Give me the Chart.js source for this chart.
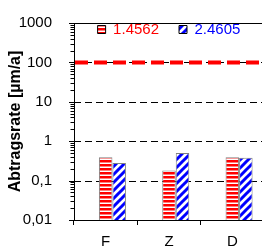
<!DOCTYPE html>
<html lang="de">
<head>
<meta charset="UTF-8">
<title>Abtragsrate</title>
<script src="https://cdn.jsdelivr.net/npm/chart.js"></script>
<style>
  body { margin: 0; overflow: hidden; background: #fff; }
  #wrap { width: 280px; height: 250px; }
</style>
</head>
<body>
<div id="wrap"><canvas id="rateChart" width="280" height="250"></canvas></div>
<script>
const categories = ['F', 'Z', 'D'];
const seriesNames = ['1.4562', '2.4605'];
const rate14562 = [0.39, 0.18, 0.39];
const rate24605 = [0.28, 0.50, 0.38];
const emptySeries = [null, null, null]; // empty first series, keeps the bars right of centre
const yMajorTicks = [0.01, 0.1, 1, 10, 100, 1000];
const yTickLabels = ['0,01', '0,1', '1', '10', '100', '1000'];
const refLine = 100;

const FONT = 'Arial, "Liberation Sans", sans-serif';

function stripePattern() {
    const c = document.createElement('canvas');
    c.width = 4; c.height = 4;
    const g = c.getContext('2d');
    g.fillStyle = '#fff'; g.fillRect(0, 0, 4, 4);
    g.fillStyle = '#ff0000'; g.fillRect(0, 0, 4, 2.5);
    return g.createPattern(c, 'repeat');
}

function hatchPattern() {
    const c = document.createElement('canvas');
    c.width = 8; c.height = 8;
    const g = c.getContext('2d');
    g.fillStyle = '#fff'; g.fillRect(0, 0, 8, 8);
    g.strokeStyle = '#0000ff'; g.lineWidth = 3;
    g.beginPath();
    g.moveTo(-1, 9); g.lineTo(9, -1);
    g.moveTo(-1, 1); g.lineTo(1, -1);
    g.moveTo(7, 9); g.lineTo(9, 7);
    g.stroke();
    return g.createPattern(c, 'repeat');
}

const redFill = stripePattern();
const blueFill = hatchPattern();

const frame = {
    id: 'frame',
    afterLayout(chart) {
        // legend takes no room in the layout; move its box inside the plot top
        const top = chart.chartArea.top;
        chart.legend.top = top - 21;
        chart.legend.bottom = top + 30;
    },
    beforeDatasetsDraw(chart) {
        const {ctx, chartArea: a, scales: {y}} = chart;
        ctx.save();
        ctx.strokeStyle = '#000';
        ctx.lineWidth = 1;
        ctx.setLineDash([7, 4]);
        yMajorTicks.slice(1, -1).forEach(v => {
            const py = Math.round(y.getPixelForValue(v)) + 0.5;
            ctx.beginPath(); ctx.moveTo(a.left, py); ctx.lineTo(a.right, py); ctx.stroke();
        });
        ctx.setLineDash([]);
        ctx.beginPath(); ctx.moveTo(a.left, a.top + 0.5); ctx.lineTo(a.right, a.top + 0.5); ctx.stroke();
        y.ticks.forEach(t => {
            const py = Math.round(y.getPixelForValue(t.value)) + 0.5;
            const len = t.major ? 5 : 3.5;
            ctx.beginPath(); ctx.moveTo(a.left - len, py); ctx.lineTo(a.left, py); ctx.stroke();
        });
        ctx.restore();
    },
    afterDatasetsDraw(chart) {
        const {ctx, chartArea: a, scales: {y}} = chart;
        const py = y.getPixelForValue(refLine);
        ctx.save();
        ctx.strokeStyle = '#ff0000';
        ctx.lineWidth = 4;
        ctx.setLineDash([13, 6]);
        ctx.beginPath(); ctx.moveTo(a.left + 1, py); ctx.lineTo(a.right, py); ctx.stroke();
        ctx.restore();
    }
};

new Chart(document.getElementById('rateChart'), {
    type: 'bar',
    data: {
        labels: categories,
        datasets: [
            { label: '', data: emptySeries },
            {
                label: seriesNames[0],
                data: rate14562,
                backgroundColor: redFill,
                borderColor: '#808080',
                borderWidth: 1,
                textColor: '#ff0000'
            },
            {
                label: seriesNames[1],
                data: rate24605,
                backgroundColor: blueFill,
                borderColor: '#808080',
                borderWidth: 1,
                textColor: '#0000ff'
            }
        ]
    },
    options: {
        responsive: false,
        animation: false,
        devicePixelRatio: 1,
        layout: { padding: { top: 15, right: 16, left: 0, bottom: 0 } },
        datasets: { bar: { barPercentage: 1, categoryPercentage: 0.64 } },
        plugins: {
            tooltip: { enabled: false },
            legend: {
                position: 'top',
                align: 'center',
                fullSize: false,
                maxHeight: 0.01,
                labels: {
                    font: { family: FONT, size: 15 },
                    boxWidth: 8,
                    boxHeight: 8,
                    padding: 20,
                    generateLabels(chart) {
                        return chart.data.datasets.slice(1).map((ds, i) => ({
                            text: ds.label,
                            fillStyle: ds.backgroundColor,
                            strokeStyle: '#000',
                            lineWidth: 1,
                            fontColor: ds.textColor,
                            datasetIndex: i + 1
                        }));
                    }
                }
            }
        },
        scales: {
            x: {
                grid: { drawOnChartArea: false, drawTicks: true, tickLength: 5, color: '#000' },
                border: { color: '#000', width: 1 },
                ticks: { color: '#000', font: { family: FONT, size: 15 }, padding: 8 },
                afterFit(scale) { scale.height = 30; }
            },
            y: {
                type: 'logarithmic',
                min: 0.01,
                max: 1000,
                grid: { display: false },
                border: { color: '#000', width: 1 },
                ticks: {
                    color: '#000',
                    autoSkip: false,
                    padding: 14,
                    font: { family: FONT, size: 15 },
                    callback(value) {
                        const i = yMajorTicks.indexOf(value);
                        return i >= 0 ? yTickLabels[i] : '';
                    }
                },
                title: {
                    display: true,
                    text: 'Abtragsrate [µm/a]',
                    color: '#000',
                    font: { family: FONT, size: 16, weight: 'bold' },
                    padding: { top: 6, bottom: 0 }
                },
                afterBuildTicks(scale) {
                    const ticks = [];
                    yMajorTicks.forEach((d, i) => {
                        ticks.push({ value: d, major: true });
                        if (i < yMajorTicks.length - 1) {
                            for (let k = 2; k <= 9; k++) ticks.push({ value: d * k, major: false });
                        }
                    });
                    scale.ticks = ticks;
                },
                afterFit(scale) { scale.width = 74; }
            }
        }
    },
    plugins: [frame]
});
</script>
</body>
</html>
